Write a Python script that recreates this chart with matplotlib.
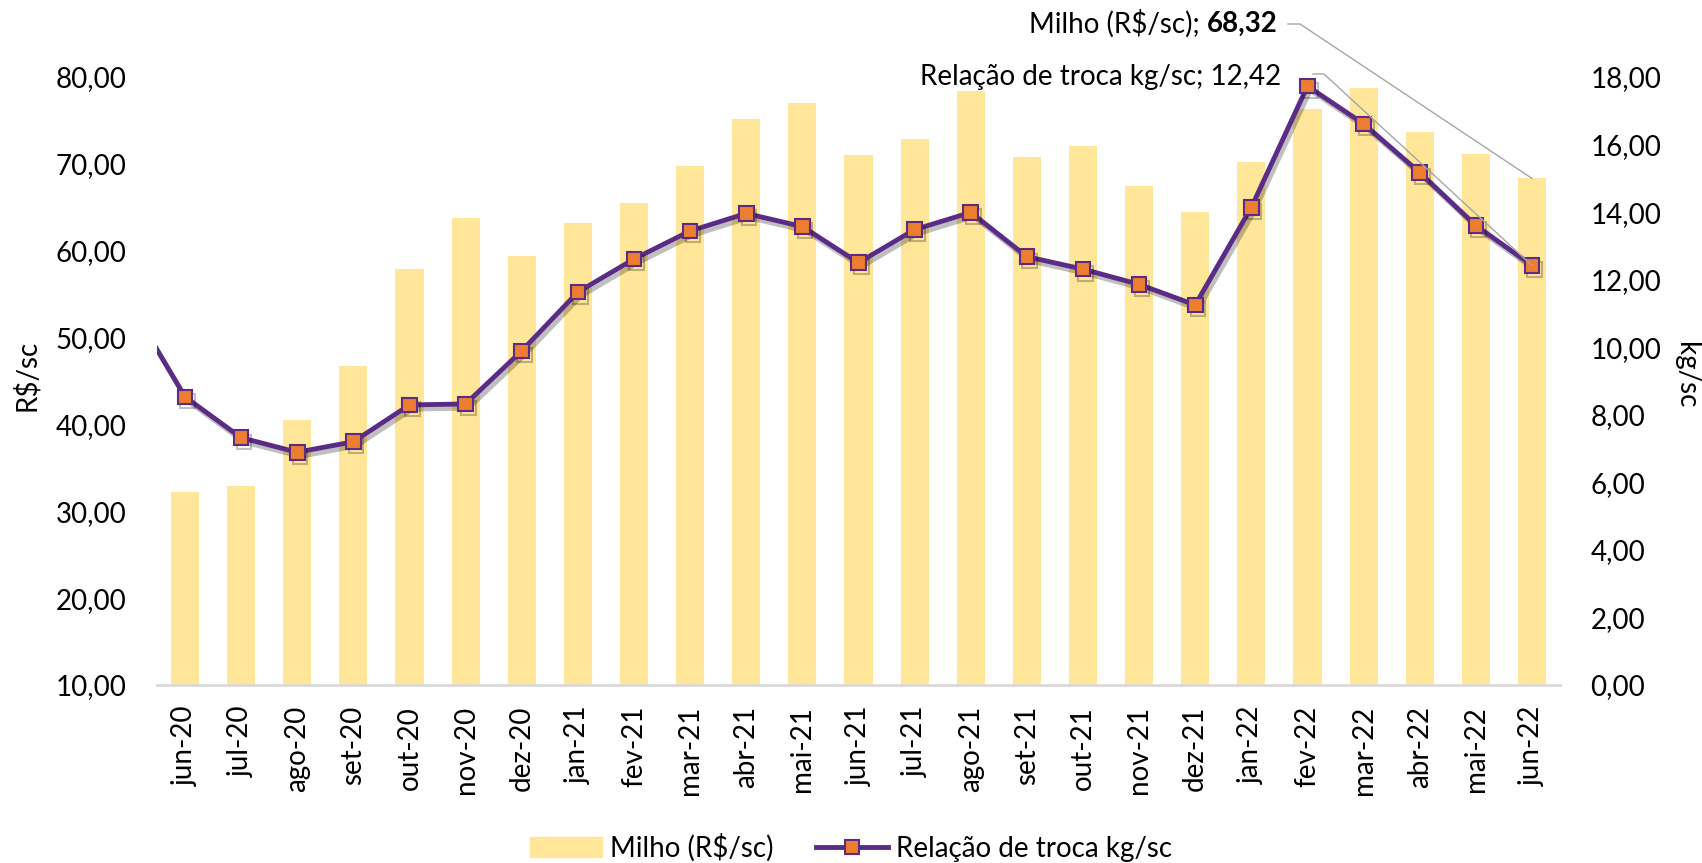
import numpy as np
import matplotlib.pyplot as plt
import matplotlib.patheffects as pe
from matplotlib.lines import Line2D
from matplotlib.patches import Patch
from matplotlib.ticker import FuncFormatter
from matplotlib.transforms import IdentityTransform

plt.rcParams['font.family'] = ['Lato', 'DejaVu Sans']

meses = ["jun-20", "jul-20", "ago-20", "set-20", "out-20", "nov-20", "dez-20",
         "jan-21", "fev-21", "mar-21", "abr-21", "mai-21", "jun-21", "jul-21",
         "ago-21", "set-21", "out-21", "nov-21", "dez-21", "jan-22", "fev-22",
         "mar-22", "abr-22", "mai-22", "jun-22"]

milho = [32.2, 32.9, 40.5, 46.7, 57.9, 63.8, 59.4, 63.2, 65.5, 69.8, 75.2, 77.0,
         71.0, 72.9, 78.4, 70.75, 72.1, 67.5, 64.4, 70.2, 76.3, 78.7, 73.7, 71.1,
         68.32]

troca = [8.53, 7.32, 6.89, 7.20, 8.29, 8.32, 9.89, 11.63, 12.61, 13.44, 13.96,
         13.57, 12.50, 13.48, 13.99, 12.68, 12.31, 11.86, 11.25, 14.14, 17.73,
         16.61, 15.17, 13.60, 12.42]

# mai-20 point lies just outside the plotted range (line comes in from the left)
troca_mai20 = 11.33

amarelo = "#FFE699"
roxo = "#5B2C86"
laranja = "#ED7D31"
cinza = "#A6A6A6"
fs = 20


def virgula(v, pos=None):
    return "{:.2f}".format(v).replace(".", ",")


fig = plt.figure(figsize=(17.02, 8.63), dpi=100)
ax = fig.add_axes([0.0922, 0.2063, 0.8244, 0.7045])

x = np.arange(len(meses))
ax.bar(x, milho, width=0.5, color=amarelo, zorder=2)
ax.set_xlim(-0.5, len(meses) - 0.5)
ax.set_ylim(10, 80)
ax.set_yticks(np.arange(10, 81, 10))
ax.yaxis.set_major_formatter(FuncFormatter(virgula))
ax.set_xticks(x)
ax.set_xticklabels(meses, rotation=90)
ax.tick_params(axis="x", length=0, labelsize=fs, pad=15)
ax.tick_params(axis="y", length=0, labelsize=fs, pad=22)
for s in ["top", "left", "right"]:
    ax.spines[s].set_visible(False)
ax.spines["bottom"].set_color("#D9D9D9")
ax.spines["bottom"].set_linewidth(2)
ax.set_ylabel("R$/sc", fontsize=fs)
ax.yaxis.set_label_coords(-0.083, 0.51)

ax2 = ax.twinx()
ax2.set_ylim(0, 18)
ax2.set_yticks(np.arange(0, 19, 2))
ax2.yaxis.set_major_formatter(FuncFormatter(virgula))
ax2.tick_params(axis="y", length=0, labelsize=fs, pad=22)
for s in ax2.spines.values():
    s.set_visible(False)
ax2.set_ylabel("kg/sc", fontsize=fs, rotation=270)
ax2.yaxis.set_label_coords(1.099, 0.51)

xl = np.concatenate([[-1], x])
yl = [troca_mai20] + troca
ax2.plot(xl, yl, color=roxo, lw=3.5, marker="s", ms=10.5, mfc=laranja,
         mec=roxo, mew=1.5, zorder=3,
         path_effects=[pe.SimpleLineShadow(offset=(2, -3), alpha=0.25),
                       pe.Normal()])

# data labels for the last month, with leader lines
fig.canvas.draw()
r = fig.canvas.get_renderer()
H = fig.bbox.height

t_b = fig.text(1278, H - 24, virgula(milho[-1]), ha="right", va="center",
               fontsize=fs, weight="bold", transform=IdentityTransform())
bb = t_b.get_window_extent(r)
fig.text(bb.x0, H - 24, "Milho (R$/sc); ", ha="right", va="center",
         fontsize=fs, transform=IdentityTransform())
t_r = fig.text(1281, H - 77, "Relação de troca kg/sc; " + virgula(troca[-1]),
               ha="right", va="center", fontsize=fs,
               transform=IdentityTransform())

p1 = ax.transData.transform((x[-1], milho[-1]))
fig.add_artist(Line2D([1288, 1300, p1[0]], [H - 24, H - 24, p1[1]],
                      color=cinza, lw=1, transform=IdentityTransform()))
p2 = ax2.transData.transform((x[-1], troca[-1]))
fig.add_artist(Line2D([1313, 1324, p2[0]], [H - 74, H - 74, p2[1]],
                      color=cinza, lw=1, transform=IdentityTransform()))

handles = [Patch(color=amarelo),
           Line2D([], [], color=roxo, lw=3.5, marker="s", ms=10.5, mfc=laranja,
                  mec=roxo, mew=1.5)]
fig.legend(handles, ["Milho (R$/sc)", "Relação de troca kg/sc"],
           loc="center", bbox_to_anchor=(0.5, 0.018), ncol=2, frameon=False,
           fontsize=fs, handlelength=2.6, handletextpad=0.3,
           columnspacing=1.5)

fig.savefig("out.png", dpi=100)
